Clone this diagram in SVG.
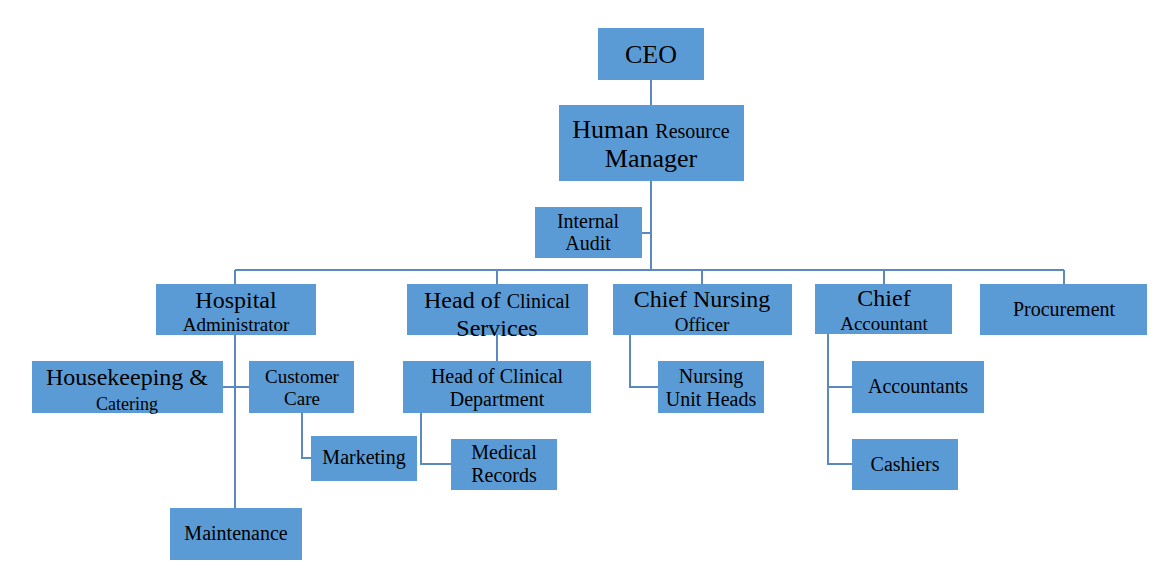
<svg xmlns="http://www.w3.org/2000/svg" width="1155" height="579" viewBox="0 0 1155 579" font-family="Liberation Serif, DejaVu Serif, serif">
<style>
.b{fill:#5b9bd5}
.t{fill:#000;text-anchor:middle}
.c{fill:none;stroke:#5a88c0;stroke-width:2}
</style>
<rect width="1155" height="579" fill="#fff"/>
<g id="connectors">
<path class="c" d="M651 80V105M651 181V270M642 233H651M235 270H1064M235 270V284M497 270V284M702 270V284M884 270V284M1064 270V284"/>
<path class="c" d="M235 335V508M223 387H249M302 413V458H311M497 335V361M421 413V464H451M630 335V387H658M828 334V464H852M828 387H852"/>
</g>
<g id="ceo"><rect class="b" x="598" y="28" width="106" height="52"/><text class="t" x="651" y="63" font-size="26">CEO</text></g>
<g id="hr"><rect class="b" x="559" y="105" width="185" height="76"/><text class="t" x="651" y="138" font-size="26">Human <tspan font-size="20">Resource</tspan></text><text class="t" x="651" y="167" font-size="26">Manager</text></g>
<g id="audit"><rect class="b" x="535" y="207" width="107" height="51"/><text class="t" x="588" y="228" font-size="20">Internal</text><text class="t" x="588" y="250" font-size="20">Audit</text></g>
<g id="hospadmin"><rect class="b" x="156" y="284" width="160" height="51"/><text class="t" x="236" y="308" font-size="24">Hospital</text><text class="t" x="236" y="331" font-size="19">Administrator</text></g>
<g id="clinical"><rect class="b" x="407" y="284" width="181" height="51"/><text class="t" x="497" y="308" font-size="24">Head of <tspan font-size="20">Clinical</tspan></text><text class="t" x="497" y="336" font-size="24">Services</text></g>
<g id="nursing"><rect class="b" x="613" y="284" width="179" height="51"/><text class="t" x="702" y="307" font-size="24">Chief Nursing</text><text class="t" x="702" y="331" font-size="19">Officer</text></g>
<g id="chiefacc"><rect class="b" x="815" y="284" width="137" height="50"/><text class="t" x="884" y="306" font-size="24">Chief</text><text class="t" x="884" y="330" font-size="19">Accountant</text></g>
<g id="procurement"><rect class="b" x="980" y="284" width="167" height="51"/><text class="t" x="1064" y="316" font-size="20">Procurement</text></g>
<g id="housekeeping"><rect class="b" x="32" y="361" width="191" height="52"/><text class="t" x="127" y="385" font-size="24">Housekeeping &amp;</text><text class="t" x="127" y="410" font-size="18">Catering</text></g>
<g id="customercare"><rect class="b" x="249" y="361" width="105" height="52"/><text class="t" x="302" y="383" font-size="19">Customer</text><text class="t" x="302" y="405" font-size="19">Care</text></g>
<g id="clindept"><rect class="b" x="403" y="361" width="188" height="52"/><text class="t" x="497" y="383" font-size="20">Head of Clinical</text><text class="t" x="497" y="406" font-size="20">Department</text></g>
<g id="unitheads"><rect class="b" x="658" y="361" width="106" height="52"/><text class="t" x="711" y="383" font-size="20">Nursing</text><text class="t" x="711" y="406" font-size="20">Unit Heads</text></g>
<g id="accountants"><rect class="b" x="852" y="361" width="132" height="52"/><text class="t" x="918" y="393" font-size="20">Accountants</text></g>
<g id="marketing"><rect class="b" x="311" y="436" width="106" height="45"/><text class="t" x="364" y="464" font-size="20">Marketing</text></g>
<g id="medrecords"><rect class="b" x="451" y="439" width="106" height="51"/><text class="t" x="504" y="459" font-size="20">Medical</text><text class="t" x="504" y="482" font-size="20">Records</text></g>
<g id="cashiers"><rect class="b" x="852" y="439" width="106" height="51"/><text class="t" x="905" y="471" font-size="20">Cashiers</text></g>
<g id="maintenance"><rect class="b" x="170" y="508" width="132" height="52"/><text class="t" x="236" y="540" font-size="20">Maintenance</text></g>
</svg>
